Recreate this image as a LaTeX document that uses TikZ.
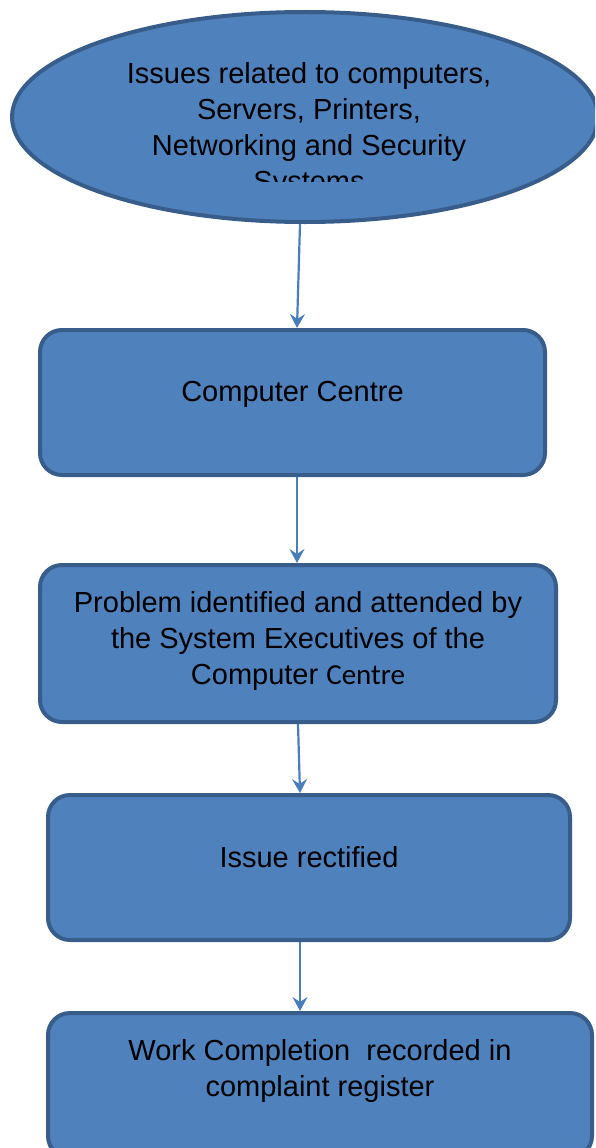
\documentclass[tikz,border=0pt]{standalone}
\usepackage{fontspec}
\setmainfont{Liberation Sans}
\newfontfamily\calib{Carlito}
\usetikzlibrary{shapes.geometric,arrows.meta}
\definecolor{boxfill}{HTML}{4F81BD}
\definecolor{boxline}{HTML}{385D8A}
\definecolor{arrowc}{HTML}{4A7EBB}
\begin{document}
\begin{tikzpicture}[x=1pt,y=-1pt,
  shapeline/.style={draw=boxline, line width=4pt, fill=boxfill},
  stepbox/.style={shapeline, rounded corners=22pt, inner sep=0pt},
  conn/.style={draw=arrowc, line width=2.2pt, -{Stealth[length=14pt,width=15pt,inset=5pt]}},
  lbl/.style={font=\fontsize{29}{36}\selectfont, align=center, text=black, inner sep=0pt}]
\useasboundingbox (0,0) rectangle (595,1148);
\clip (0,0) rectangle (595,1148);
% ellipse
\node[shapeline, ellipse, minimum width=586pt, minimum height=210pt, inner sep=0pt] (e) at (305,117) {};
\begin{scope}
\clip (0,0) rectangle (595,181);
\node[lbl] (te) at (309,130) {Issues related to computers,\\Servers, Printers,\\Networking and Security\\Systems};
\end{scope}
% boxes
\node[stepbox, minimum width=505pt, minimum height=145pt] (b1) at (292.5,402.5) {};
\node[lbl] (t1) at (292.5,394) {Computer Centre};
\node[stepbox, minimum width=516pt, minimum height=157pt] (b2) at (298,643.5) {};
\node[lbl] (t2) at (298,641) {Problem identified and attended by\\the System Executives of the\\Computer {\calib Centre}};
\node[stepbox, minimum width=522pt, minimum height=145pt] (b3) at (309,867.5) {};
\node[lbl] (t3) at (309,857) {Issue rectified};
\node[stepbox, minimum width=544pt, minimum height=145pt] (b4) at (320,1085.5) {};
\node[lbl] (t4) at (320,1071) {Work Completion\ \ recorded in\\complaint register};
% connectors
\draw[conn] ([xshift=-5pt]e.south) -- ([xshift=4.5pt]b1.north);
\draw[conn] ([xshift=4.5pt]b1.south) -- ([xshift=-1pt]b2.north);
\draw[conn] (b2.south) -- ([xshift=-9pt]b3.north);
\draw[conn] ([xshift=-9pt]b3.south) -- ([xshift=-20pt]b4.north);
\end{tikzpicture}
\end{document}
